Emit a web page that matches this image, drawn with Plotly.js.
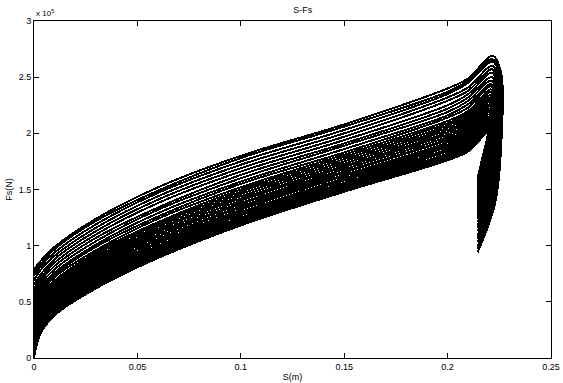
<!DOCTYPE html>
<html>
<head>
<meta charset="utf-8">
<script src="https://cdn.plot.ly/plotly-3.0.1.min.js"></script>
<style>
  html, body { margin: 0; padding: 0; background: #fff; }
  #chart { width: 563px; height: 383px; }
  .scatterlayer path.js-line { shape-rendering: crispEdges; }
</style>
</head>
<body>
<div id="chart"></div>
<script>
// S positions (m) of the rising part, shared by all curves
const sRise = [0, 0.003, 0.01, 0.03, 0.06, 0.1, 0.15, 0.2, 0.21];

// Fs (x 1e5 N) of each curve (bottom curve first) read at each S position
const fsAtS0000 = [0, 0.01, 0.02, 0.03, 0.04, 0.06, 0.07, 0.08, 0.09, 0.11, 0.13, 0.14, 0.16, 0.18, 0.20, 0.22, 0.24, 0.26, 0.28, 0.31, 0.33, 0.36, 0.38, 0.41, 0.43, 0.47, 0.50, 0.53, 0.57, 0.61, 0.65, 0.69, 0.73, 0.76, 0.79];
const fsAtS0003 = [0.21, 0.22, 0.23, 0.24, 0.25, 0.26, 0.27, 0.28, 0.29, 0.30, 0.31, 0.33, 0.34, 0.36, 0.37, 0.39, 0.41, 0.42, 0.44, 0.46, 0.48, 0.50, 0.52, 0.55, 0.57, 0.59, 0.62, 0.65, 0.68, 0.71, 0.74, 0.78, 0.81, 0.83, 0.86];
const fsAtS0010 = [0.38, 0.39, 0.40, 0.40, 0.41, 0.42, 0.43, 0.44, 0.45, 0.47, 0.48, 0.49, 0.50, 0.52, 0.53, 0.55, 0.56, 0.58, 0.60, 0.62, 0.64, 0.66, 0.67, 0.69, 0.72, 0.74, 0.76, 0.79, 0.82, 0.85, 0.88, 0.91, 0.94, 0.97, 0.99];
const fsAtS0030 = [0.62, 0.63, 0.64, 0.64, 0.65, 0.66, 0.67, 0.68, 0.69, 0.71, 0.72, 0.73, 0.74, 0.76, 0.78, 0.79, 0.81, 0.82, 0.84, 0.86, 0.88, 0.90, 0.92, 0.94, 0.96, 0.99, 1.01, 1.04, 1.07, 1.10, 1.13, 1.16, 1.19, 1.22, 1.24];
const fsAtS0060 = [0.89, 0.90, 0.91, 0.92, 0.92, 0.93, 0.94, 0.95, 0.97, 0.98, 0.99, 1.00, 1.02, 1.03, 1.05, 1.06, 1.08, 1.10, 1.12, 1.14, 1.15, 1.17, 1.19, 1.21, 1.24, 1.26, 1.29, 1.32, 1.34, 1.38, 1.41, 1.44, 1.47, 1.49, 1.52];
const fsAtS0100 = [1.18, 1.19, 1.20, 1.20, 1.21, 1.22, 1.23, 1.24, 1.25, 1.27, 1.28, 1.29, 1.30, 1.32, 1.34, 1.35, 1.37, 1.38, 1.40, 1.42, 1.44, 1.46, 1.48, 1.50, 1.52, 1.55, 1.57, 1.60, 1.63, 1.66, 1.69, 1.72, 1.75, 1.78, 1.80];
const fsAtS0150 = [1.48, 1.49, 1.50, 1.50, 1.51, 1.52, 1.53, 1.54, 1.55, 1.56, 1.58, 1.59, 1.60, 1.62, 1.63, 1.65, 1.66, 1.68, 1.70, 1.71, 1.73, 1.75, 1.77, 1.79, 1.81, 1.83, 1.86, 1.89, 1.91, 1.94, 1.97, 2.00, 2.03, 2.06, 2.08];
const fsAtS0200 = [1.76, 1.77, 1.78, 1.79, 1.80, 1.81, 1.81, 1.82, 1.84, 1.85, 1.86, 1.88, 1.89, 1.90, 1.92, 1.94, 1.95, 1.97, 1.99, 2.01, 2.03, 2.05, 2.07, 2.09, 2.11, 2.14, 2.16, 2.19, 2.22, 2.25, 2.29, 2.32, 2.35, 2.37, 2.40];
const fsAtS0210 = [1.84, 1.85, 1.86, 1.87, 1.88, 1.89, 1.90, 1.91, 1.92, 1.93, 1.95, 1.96, 1.97, 1.99, 2.01, 2.02, 2.04, 2.06, 2.08, 2.10, 2.12, 2.14, 2.16, 2.18, 2.20, 2.23, 2.26, 2.29, 2.32, 2.35, 2.38, 2.41, 2.45, 2.47, 2.49];

// Peak and return stroke of each curve
const peakS  = [0.2199, 0.2199, 0.2200, 0.2200, 0.2200, 0.2200, 0.2201, 0.2201, 0.2201, 0.2202, 0.2202, 0.2202, 0.2203, 0.2203, 0.2204, 0.2204, 0.2205, 0.2205, 0.2206, 0.2206, 0.2207, 0.2208, 0.2208, 0.2209, 0.2210, 0.2210, 0.2211, 0.2212, 0.2213, 0.2214, 0.2215, 0.2216, 0.2217, 0.2217, 0.2218];
const peakF  = [2.02, 2.03, 2.04, 2.05, 2.06, 2.07, 2.08, 2.09, 2.10, 2.11, 2.13, 2.14, 2.15, 2.17, 2.19, 2.20, 2.22, 2.24, 2.26, 2.28, 2.30, 2.32, 2.34, 2.37, 2.39, 2.42, 2.44, 2.47, 2.50, 2.54, 2.57, 2.60, 2.64, 2.66, 2.69];
const bend1S = [0.2186, 0.2187, 0.2188, 0.2189, 0.2190, 0.2191, 0.2192, 0.2193, 0.2195, 0.2196, 0.2198, 0.2199, 0.2200, 0.2202, 0.2204, 0.2206, 0.2208, 0.2210, 0.2212, 0.2214, 0.2216, 0.2218, 0.2221, 0.2223, 0.2226, 0.2229, 0.2231, 0.2235, 0.2238, 0.2241, 0.2245, 0.2249, 0.2252, 0.2255, 0.2258];
const bend1F = [1.92, 1.92, 1.93, 1.94, 1.95, 1.96, 1.97, 1.98, 1.99, 2.00, 2.02, 2.03, 2.04, 2.06, 2.07, 2.09, 2.11, 2.13, 2.14, 2.16, 2.18, 2.20, 2.22, 2.24, 2.26, 2.29, 2.32, 2.34, 2.37, 2.40, 2.44, 2.47, 2.50, 2.53, 2.55];
const bend2S = [0.2172, 0.2173, 0.2174, 0.2176, 0.2177, 0.2178, 0.2180, 0.2181, 0.2183, 0.2185, 0.2186, 0.2188, 0.2190, 0.2192, 0.2195, 0.2197, 0.2199, 0.2202, 0.2204, 0.2207, 0.2210, 0.2213, 0.2215, 0.2218, 0.2222, 0.2225, 0.2229, 0.2233, 0.2237, 0.2241, 0.2246, 0.2250, 0.2255, 0.2258, 0.2262];
const bend2F = [1.81, 1.81, 1.82, 1.82, 1.82, 1.82, 1.83, 1.83, 1.83, 1.84, 1.84, 1.84, 1.85, 1.85, 1.86, 1.86, 1.87, 1.87, 1.88, 1.88, 1.89, 1.90, 1.90, 1.91, 1.92, 1.92, 1.93, 1.94, 1.95, 1.96, 1.97, 1.98, 1.99, 1.99, 2.00];
const lowS   = [0.2159, 0.2160, 0.2161, 0.2162, 0.2163, 0.2164, 0.2165, 0.2166, 0.2168, 0.2169, 0.2170, 0.2172, 0.2173, 0.2175, 0.2177, 0.2179, 0.2180, 0.2182, 0.2185, 0.2187, 0.2189, 0.2191, 0.2193, 0.2196, 0.2198, 0.2201, 0.2204, 0.2207, 0.2210, 0.2214, 0.2217, 0.2221, 0.2224, 0.2227, 0.2230];
const lowF   = [1.71, 1.70, 1.70, 1.69, 1.69, 1.68, 1.68, 1.67, 1.67, 1.66, 1.65, 1.65, 1.64, 1.63, 1.62, 1.62, 1.61, 1.60, 1.59, 1.58, 1.57, 1.56, 1.55, 1.54, 1.53, 1.51, 1.50, 1.49, 1.47, 1.46, 1.44, 1.42, 1.41, 1.39, 1.38];
const returnS = 0.2145;
const endF   = [1.60, 1.59, 1.58, 1.57, 1.56, 1.55, 1.54, 1.53, 1.52, 1.51, 1.49, 1.48, 1.47, 1.45, 1.44, 1.42, 1.40, 1.38, 1.36, 1.34, 1.32, 1.30, 1.28, 1.26, 1.24, 1.21, 1.18, 1.16, 1.13, 1.09, 1.06, 1.03, 0.99, 0.97, 0.94];

const xTickVals = [0, 0.05, 0.1, 0.15, 0.2, 0.25];
const xTickText = ['0', '0.05', '0.1', '0.15', '0.2', '0.25'];
const yTickVals = [0, 0.5, 1, 1.5, 2, 2.5, 3];
const yTickText = ['0', '0.5', '1', '1.5', '2', '2.5', '3'];

const riseCols = [fsAtS0000, fsAtS0003, fsAtS0010, fsAtS0030, fsAtS0060, fsAtS0100, fsAtS0150, fsAtS0200, fsAtS0210];

const traces = [];
for (let k = 0; k < peakF.length; k++) {
  const x = sRise.concat([peakS[k], bend1S[k], bend2S[k], lowS[k], returnS]);
  const y = riseCols.map(c => c[k]).concat([peakF[k], bend1F[k], bend2F[k], lowF[k], endF[k]]);
  traces.push({
    type: 'scatter', mode: 'lines', x: x, y: y,
    line: { color: '#000', width: 2, shape: 'spline', smoothing: 1 },
    hoverinfo: 'skip', showlegend: false
  });
}

const fontFam = 'Liberation Sans, Arial, sans-serif';
const layout = {
  width: 563, height: 383,
  margin: { l: 34, r: 12, t: 21, b: 25 },
  paper_bgcolor: '#fff', plot_bgcolor: '#fff',
  font: { family: fontFam, size: 9, color: '#000' },
  showlegend: false,
  title: { text: 'S-Fs', x: 0.52, xref: 'paper', y: 1 - 10 / 383, yref: 'container', yanchor: 'middle', font: { family: fontFam, size: 9, color: '#000' } },
  xaxis: {
    range: [0, 0.25], tickvals: xTickVals, ticktext: xTickText,
    ticks: 'inside', ticklen: 5, tickcolor: '#000', tickwidth: 1,
    showline: true, linecolor: '#000', linewidth: 1, mirror: 'ticks',
    showgrid: false, zeroline: false, tickfont: { size: 9 },
    title: { text: 'S(m)', standoff: 2, font: { size: 9 } }
  },
  yaxis: {
    range: [0, 3], tickvals: yTickVals, ticktext: yTickText,
    ticks: 'inside', ticklen: 5, tickcolor: '#000', tickwidth: 1,
    showline: true, linecolor: '#000', linewidth: 1, mirror: 'ticks',
    showgrid: false, zeroline: false, tickfont: { size: 9 },
    title: { text: 'Fs(N)', standoff: 4, font: { size: 9 } }
  },
  annotations: [{
    text: 'x 10<sup>5</sup>', xref: 'paper', yref: 'paper', x: 0, y: 1,
    xanchor: 'left', yanchor: 'bottom', yshift: 1, showarrow: false,
    font: { family: fontFam, size: 8, color: '#000' }
  }]
};

Plotly.newPlot('chart', traces, layout, { staticPlot: true, displayModeBar: false });
</script>
</body>
</html>
